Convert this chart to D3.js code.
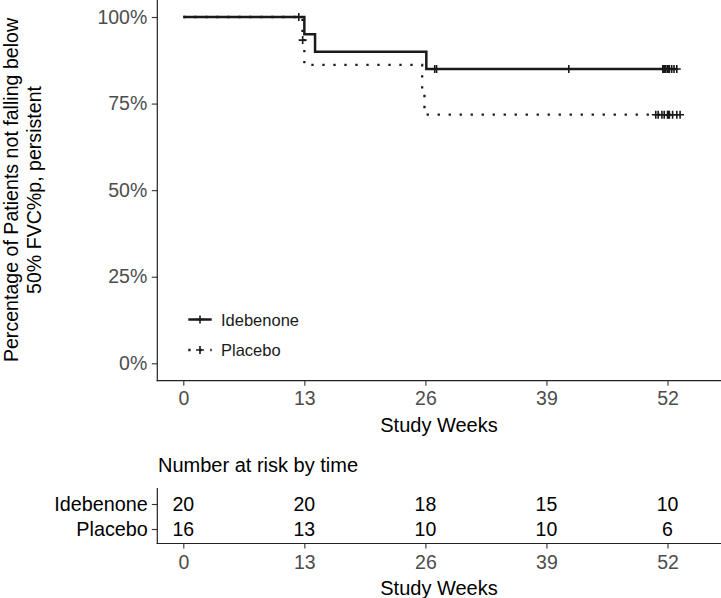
<!DOCTYPE html>
<html>
<head>
<meta charset="utf-8">
<script src="https://cdn.jsdelivr.net/npm/d3@7"></script>
<style>
  html, body { margin: 0; padding: 0; background: #fff; }
  svg { display: block; font-family: "Liberation Sans", Arial, sans-serif; }
</style>
</head>
<body>
<svg id="chart" width="721" height="598"></svg>
<script>
// ---- data ----
const timeTicks = [0, 13, 26, 39, 52];
const survTicks = [0, 0.25, 0.5, 0.75, 1];
const groups = ["Idebenone", "Placebo"];

const ideStepTimes = [0, 13.0, 14.15, 26.1];
const ideStepSurv  = [1, 0.95, 0.90, 0.85];
const ideCensorTimes = [27.0, 27.2, 41.4, 51.5, 51.6, 51.7, 51.8, 52.0, 52.0, 52.05, 52.1, 52.15, 52.2, 52.45, 52.7, 53.0];

const plaStepTimes = [0, 12.8, 13.0, 25.65, 25.9];
const plaStepSurv  = [1, 0.9333, 0.8615, 0.7897, 0.7179];
const plaCensorTimes = [12.4, 12.82, 50.74, 51.0, 51.4, 51.65, 52.0, 52.1, 52.2, 52.55, 53.0, 53.35];

const ideAtRisk = [20, 20, 18, 15, 10];
const plaAtRisk = [16, 13, 10, 10, 6];

// ---- layout ----
const svg = d3.select("#chart");
const panelLeft = 157.3, panelRight = 721;
const x = d3.scaleLinear().domain([0, 52]).range([183.3, 667.5]);
const y = d3.scaleLinear().domain([0, 1]).range([363.3, 17]);
const axisY = 380.7;
const ink = "#1a1a1a";
const tickGray = "#4d4d4d";

function survAt(times, survs, t) {
  let s = survs[0];
  for (let i = 0; i < times.length; i++) if (times[i] <= t) s = survs[i];
  return s;
}

const series = [
  { name: "Idebenone", times: ideStepTimes, surv: ideStepSurv, cens: ideCensorTimes, dash: null, width: 2.5 },
  { name: "Placebo", times: plaStepTimes, surv: plaStepSurv, cens: plaCensorTimes, dash: "2.3,8.7", width: 2.3 }
];

const line = d3.line().x(d => x(d[0])).y(d => y(d[1])).curve(d3.curveStepAfter);

series.forEach(s => {
  const pts = s.times.map((t, i) => [t, s.surv[i]]);
  const tEnd = d3.max(s.cens);
  pts.push([tEnd, s.surv[s.surv.length - 1]]);
  svg.append("path")
    .attr("d", line(pts))
    .attr("fill", "none")
    .attr("stroke", ink)
    .attr("stroke-width", s.width)
    .attr("stroke-dasharray", s.dash);
});

// censor marks
const plus = 4;
series.forEach(s => {
  const g = svg.append("g");
  s.cens.forEach(t => {
    const cx = x(t), cy = y(survAt(s.times, s.surv, t));
    g.append("path")
      .attr("d", `M${cx - plus},${cy}H${cx + plus}M${cx},${cy - plus}V${cy + plus}`)
      .attr("stroke", ink).attr("stroke-width", 1.6).attr("fill", "none");
  });
});

// ---- main axes ----
const yAxis = d3.axisLeft(y).tickValues(survTicks).tickFormat(d3.format(".0%"))
  .tickSize(5.5).tickSizeOuter(0).tickPadding(4.5);
const gy = svg.append("g").attr("transform", `translate(${panelLeft},0)`).call(yAxis);
gy.select(".domain").remove();
gy.selectAll(".tick line").attr("stroke", "#333").attr("stroke-width", 1.1);
gy.selectAll(".tick text").attr("fill", tickGray).style("font-size", "19.5px");

const xAxis = d3.axisBottom(x).tickValues(timeTicks).tickSize(5).tickSizeOuter(0).tickPadding(5);
const gx = svg.append("g").attr("transform", `translate(0,${axisY})`).call(xAxis);
gx.select(".domain").remove();
gx.selectAll(".tick line").attr("stroke", "#333").attr("stroke-width", 1.1);
gx.selectAll(".tick text").attr("fill", tickGray).style("font-size", "19.5px");

svg.append("line").attr("x1", panelLeft).attr("x2", panelLeft).attr("y1", 0).attr("y2", axisY + 0.6)
  .attr("stroke", "#222").attr("stroke-width", 1.2);
svg.append("line").attr("x1", panelLeft - 0.6).attr("x2", panelRight).attr("y1", axisY).attr("y2", axisY)
  .attr("stroke", "#222").attr("stroke-width", 1.2);

svg.append("text").attr("x", 439).attr("y", 431.5).attr("text-anchor", "middle")
  .style("font-size", "20px").attr("fill", "#000").text("Study Weeks");

const yTitle = svg.append("text").attr("transform", "translate(0,190) rotate(-90)")
  .attr("text-anchor", "middle").style("font-size", "19.6px").attr("fill", "#000");
yTitle.append("tspan").attr("x", 0).attr("y", 18).text("Percentage of Patients not falling below");
yTitle.append("tspan").attr("x", 0).attr("y", 40.5).text("50% FVC%p, persistent");

// ---- legend ----
const legendY = [319.5, 350];
series.forEach((s, i) => {
  const ly = legendY[i];
  svg.append("line").attr("x1", 188.3).attr("x2", 211.7).attr("y1", ly).attr("y2", ly)
    .attr("stroke", ink).attr("stroke-width", s.width).attr("stroke-dasharray", s.dash);
  svg.append("path").attr("d", `M${200 - plus},${ly}H${200 + plus}M200,${ly - plus}V${ly + plus}`)
    .attr("stroke", ink).attr("stroke-width", 1.6);
  svg.append("text").attr("x", 221).attr("y", ly + 6.3)
    .style("font-size", "16.5px").attr("fill", "#1a1a1a").text(s.name);
});

// ---- risk table ----
const riskTop = 488, riskAxisY = 543.5;
const yr = d3.scalePoint().domain(groups).range([504, 529]);
const atRisk = { "Idebenone": ideAtRisk, "Placebo": plaAtRisk };

svg.append("text").attr("x", 158).attr("y", 471.5)
  .style("font-size", "20px").attr("fill", "#000").text("Number at risk by time");

const gry = svg.append("g").attr("transform", `translate(${panelLeft},0)`)
  .call(d3.axisLeft(yr).tickSize(5.5).tickSizeOuter(0).tickPadding(4));
gry.select(".domain").remove();
gry.selectAll(".tick line").attr("stroke", "#333").attr("stroke-width", 1.1);
gry.selectAll(".tick text").attr("fill", "#000").style("font-size", "19.8px");

groups.forEach(gname => {
  atRisk[gname].forEach((v, i) => {
    svg.append("text").attr("x", x(timeTicks[i])).attr("y", yr(gname)).attr("dy", "0.36em")
      .attr("text-anchor", "middle").style("font-size", "19.5px").attr("fill", "#000").text(v);
  });
});

const grx = svg.append("g").attr("transform", `translate(0,${riskAxisY})`)
  .call(d3.axisBottom(x).tickValues(timeTicks).tickSize(5).tickSizeOuter(0).tickPadding(6.5));
grx.select(".domain").remove();
grx.selectAll(".tick line").attr("stroke", "#333").attr("stroke-width", 1.1);
grx.selectAll(".tick text").attr("fill", tickGray).style("font-size", "19.5px");

svg.append("line").attr("x1", panelLeft).attr("x2", panelLeft).attr("y1", riskTop).attr("y2", riskAxisY + 0.6)
  .attr("stroke", "#222").attr("stroke-width", 1.2);
svg.append("line").attr("x1", panelLeft - 0.6).attr("x2", panelRight).attr("y1", riskAxisY).attr("y2", riskAxisY)
  .attr("stroke", "#222").attr("stroke-width", 1.2);

svg.append("text").attr("x", 439).attr("y", 594.5).attr("text-anchor", "middle")
  .style("font-size", "20px").attr("fill", "#000").text("Study Weeks");
</script>
</body>
</html>
